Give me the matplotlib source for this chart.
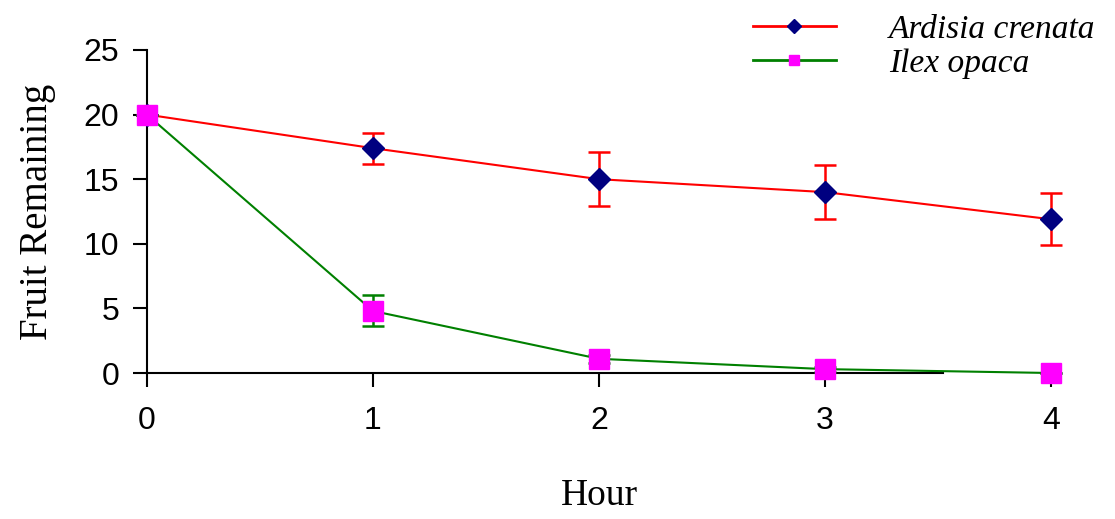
import numpy as np
import matplotlib
matplotlib.use('Agg')
import matplotlib.pyplot as plt
from matplotlib.lines import Line2D

# Data
hours = [0, 1, 2, 3, 4]
ardisia = [20, 17.4, 15.0, 14.0, 11.9]
ardisia_err = [0, 1.2, 2.1, 2.1, 2.0]
ilex = [20, 4.8, 1.1, 0.3, 0.0]
ilex_err = [0, 1.2, 0.3, 0.2, 0]

fig = plt.figure(figsize=(11.15, 5.19), dpi=100)
ax = fig.add_axes((0.1318, 0.2813, 0.8108, 0.6224))

ax.errorbar(hours, ardisia, yerr=ardisia_err, color='#ff0000', lw=1.5,
            marker='D', ms=11, mfc='#000080', mec='#000080',
            ecolor='#ff0000', elinewidth=1.8, capsize=8, capthick=1.8,
            clip_on=False, zorder=3)
ax.errorbar(hours, ilex, yerr=ilex_err, color='#008000', lw=1.5,
            marker='s', ms=15, mfc='#ff00ff', mec='#ff00ff',
            ecolor='#008000', elinewidth=1.8, capsize=8, capthick=1.8,
            clip_on=False, zorder=4)

ax.set_xlim(0, 4)
ax.set_ylim(0, 25)
ax.set_xticks(hours)
ax.set_yticks([0, 5, 10, 15, 20, 25])

for s in ['top', 'right']:
    ax.spines[s].set_visible(False)
ax.spines['bottom'].set_bounds(0, 3.52)
ax.spines['left'].set_linewidth(1.5)
ax.spines['bottom'].set_linewidth(1.5)
ax.tick_params(direction='out', length=10, width=1.5, labelsize=23)
ax.tick_params(axis='y', pad=10)
ax.tick_params(axis='x', pad=14)
for t in ax.get_xticklabels() + ax.get_yticklabels():
    t.set_fontfamily('Liberation Sans')

ax.set_xlabel('Hour', fontsize=27, family='Liberation Serif', labelpad=30)
ax.set_ylabel('Fruit Remaining', fontsize=28, family='Liberation Serif', labelpad=20)

handles = [
    Line2D([], [], color='#ff0000', lw=2, marker='D', ms=7,
           mfc='#000080', mec='#000080'),
    Line2D([], [], color='#008000', lw=2, marker='s', ms=7,
           mfc='#ff00ff', mec='#ff00ff'),
]
fig.legend(handles, ['Ardisia crenata', 'Ilex opaca'], loc='upper left',
           bbox_to_anchor=(0.648, 1.03), frameon=False,
           prop={'family': 'Liberation Serif', 'style': 'italic', 'size': 24},
           handlelength=2.5, handletextpad=1.6, labelspacing=0.1)

fig.savefig('out.png', dpi=100)
